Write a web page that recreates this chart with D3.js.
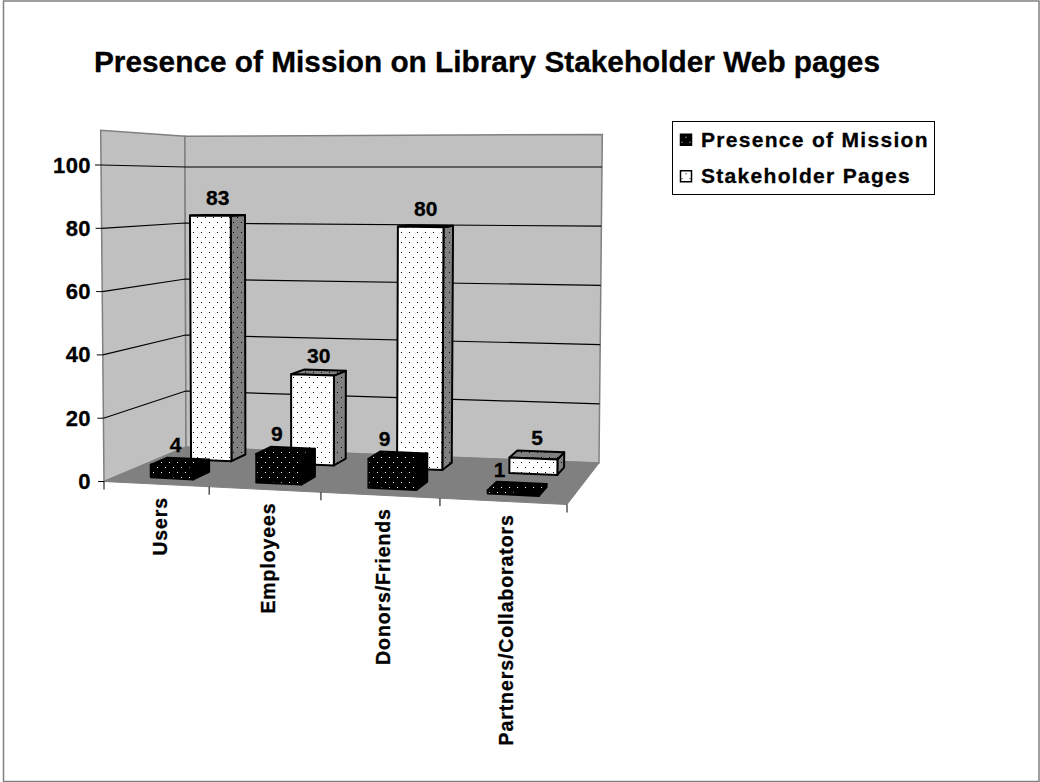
<!DOCTYPE html>
<html>
<head>
<meta charset="utf-8">
<script src="https://cdn.jsdelivr.net/npm/d3@7"></script>
<style>
  html, body { margin: 0; padding: 0; background: #fff; }
  svg { display: block; font-family: "Liberation Sans", Arial, sans-serif; font-weight: bold; fill: #000; }
</style>
</head>
<body>
<svg id="chart" width="1040" height="782"></svg>
<script>
const title = "Presence of Mission on Library Stakeholder Web pages";
const categories = ["Users", "Employees", "Donors/Friends", "Partners/Collaborators"];
const seriesNames = ["Presence of Mission", "Stakeholder Pages"];
const presenceOfMission = [4, 9, 9, 1];
const stakeholderPages = [83, 30, 80, 5];
const valueTicks = [0, 20, 40, 60, 80, 100];
const valueMax = 111;

// picture-plane corners of the floor, and the offset of the 100 level above each corner
const floorCorners = {fl: [104, 481.5], fr: [567, 504.5], br: [599, 463], bl: [186, 447]};
const riseCorners = {fl: [-3, -316.5], fr: [3, -332], br: [3, -296], bl: [-1, -280]};

function homography({fl, fr, br, bl}) {
    // unit square -> quad
    const dx1 = fr[0] - br[0], dx2 = bl[0] - br[0], sx = fl[0] - fr[0] + br[0] - bl[0];
    const dy1 = fr[1] - br[1], dy2 = bl[1] - br[1], sy = fl[1] - fr[1] + br[1] - bl[1];
    const det = dx1 * dy2 - dx2 * dy1;
    const g = (sx * dy2 - dx2 * sy) / det, h = (dx1 * sy - sx * dy1) / det;
    const a = fr[0] - fl[0] + g * fr[0], b = bl[0] - fl[0] + h * bl[0];
    const d = fr[1] - fl[1] + g * fr[1], e = bl[1] - fl[1] + h * bl[1];
    return (u, w) => {
        const k = g * u + h * w + 1;
        return [(a * u + b * w + fl[0]) / k, (d * u + e * w + fl[1]) / k];
    };
}

const floorAt = homography(floorCorners);
const vScale = d3.scaleLinear().domain([0, 100]).range([0, 1]);

function riseAt(u, w) {
    const {fl, fr, br, bl} = riseCorners;
    return [0, 1].map(i => (1 - w) * ((1 - u) * fl[i] + u * fr[i]) + w * ((1 - u) * bl[i] + u * br[i]));
}

function project(u, w, v) {
    const p = floorAt(u, w), r = riseAt(u, w), t = vScale(v);
    return [p[0] + r[0] * t, p[1] + r[1] * t];
}

const uScale = d3.scaleBand().domain(categories).range([0.008, 1.008]).paddingInner(0.59).paddingOuter(0.295);
const catBand = d3.scaleBand().domain(categories).range([0, 1]);
const wScale = d3.scaleBand().domain(seriesNames).range([0, 1]).paddingInner(0.6).paddingOuter(0.3);

const svg = d3.select("#chart");
const poly = pts => pts.map(p => p.join(",")).join(" ");

// fill patterns
const defs = svg.append("defs");
function addDots(id, bg, dot) {
    const p = defs.append("pattern").attr("id", id).attr("patternUnits", "userSpaceOnUse")
        .attr("width", 8).attr("height", 10);
    p.append("rect").attr("width", 8).attr("height", 10).attr("fill", bg);
    p.append("rect").attr("x", 1).attr("y", 2).attr("width", 1).attr("height", 1).attr("fill", dot);
    p.append("rect").attr("x", 5).attr("y", 7).attr("width", 1).attr("height", 1).attr("fill", dot);
}
addDots("dotsWhite", "#fff", "#000");
addDots("dotsGrey", "#808080", "#000");
addDots("dotsBlack", "#000", "#fff");

svg.append("rect").attr("x", 3.5).attr("y", 1).attr("width", 1035.5).attr("height", 780.5)
    .attr("fill", "#fff").attr("stroke", "#808080").attr("stroke-width", 1.5);

svg.append("text").attr("x", 94).attr("y", 72).attr("font-size", 29.8).attr("stroke", "#000").attr("stroke-width", 0.3).text(title);

// walls and floor
const wallG = svg.append("g");
wallG.append("polygon")
    .attr("points", poly([project(0, 0, 0), project(0, 1, 0), project(0, 1, valueMax), project(0, 0, valueMax)]))
    .attr("fill", "#c0c0c0").attr("stroke", "#808080").attr("stroke-width", 1.5);
wallG.append("polygon")
    .attr("points", poly([project(0, 1, 0), project(1, 1, 0), project(1, 1, valueMax), project(0, 1, valueMax)]))
    .attr("fill", "#c0c0c0").attr("stroke", "#808080").attr("stroke-width", 1.5);
wallG.append("polygon")
    .attr("points", poly([project(0, 0, 0), project(1, 0, 0), project(1, 1, 0), project(0, 1, 0)]))
    .attr("fill", "#808080").attr("stroke", "#808080");

// gridlines along both walls
wallG.selectAll("polyline.grid").data(valueTicks.slice(1)).join("polyline")
    .attr("class", "grid").attr("fill", "none").attr("stroke", "#000").attr("stroke-width", 1.2)
    .attr("points", d => poly([project(0, 0, d), project(0, 1, d), project(1, 1, d)]));

// value axis
const tickG = svg.append("g");
tickG.selectAll("line").data(valueTicks).join("line")
    .attr("x1", d => project(0, 0, d)[0] - 6).attr("x2", d => project(0, 0, d)[0])
    .attr("y1", d => project(0, 0, d)[1]).attr("y2", d => project(0, 0, d)[1])
    .attr("stroke", "#000");
tickG.selectAll("text").data(valueTicks).join("text")
    .attr("x", 91).attr("y", d => project(0, 0, d)[1] + 7.5)
    .attr("text-anchor", "end").attr("font-size", 22).attr("letter-spacing", 0.4)
    .attr("stroke", "#000").attr("stroke-width", 0.3).text(d => d);

// category ticks and labels
const catEdges = d3.range(categories.length + 1).map(i => i / categories.length);
svg.append("g").selectAll("line").data(catEdges).join("line")
    .attr("x1", d => project(d, 0, 0)[0]).attr("x2", d => project(d, 0, 0)[0])
    .attr("y1", d => project(d, 0, 0)[1]).attr("y2", d => project(d, 0, 0)[1] + 8)
    .attr("stroke", "#000");
svg.append("g").selectAll("text").data(categories).join("text")
    .attr("transform", d => {
        const p = project(catBand(d) + catBand.bandwidth() / 2, 0, 0);
        return "translate(" + (p[0] + 11) + "," + (p[1] + 13) + ")rotate(-90)";
    })
    .attr("text-anchor", "end").attr("font-size", 19.5).attr("letter-spacing", 0.9)
    .attr("stroke", "#000").attr("stroke-width", 0.3).text(d => d);

// bars, back series first, left to right
const depthEach = wScale.bandwidth();
const bars = [];
seriesNames.forEach((s, si) => {
    const values = si === 0 ? presenceOfMission : stakeholderPages;
    values.forEach((v, ci) => bars.push({series: s, si, cat: categories[ci], v}));
});
bars.sort((a, b) => b.si - a.si);

const faceFill = {
    front: si => si === 0 ? "url(#dotsBlack)" : "url(#dotsWhite)",
    side: si => si === 0 ? "#000" : "url(#dotsGrey)",
    top: si => si === 0 ? "url(#dotsBlack)" : "url(#dotsGrey)"
};

const barG = svg.append("g").selectAll("g").data(bars).join("g");
barG.each(function (d) {
    const g = d3.select(this);
    const u0 = uScale(d.cat), u1 = u0 + uScale.bandwidth();
    const w0 = wScale(d.series), w1 = w0 + depthEach;
    const faces = [
        ["side", [[u1, w0, 0], [u1, w1, 0], [u1, w1, d.v], [u1, w0, d.v]]],
        ["top", [[u0, w0, d.v], [u1, w0, d.v], [u1, w1, d.v], [u0, w1, d.v]]],
        ["front", [[u0, w0, 0], [u1, w0, 0], [u1, w0, d.v], [u0, w0, d.v]]]
    ];
    faces.forEach(([name, corners]) => {
        g.append("polygon")
            .attr("points", poly(corners.map(c => project(...c))))
            .attr("fill", faceFill[name](d.si))
            .attr("stroke", "#000").attr("stroke-width", 2).attr("stroke-linejoin", "round");
    });
});

// value labels
const labelShift = d3.scaleLinear().domain([0, 1]).range([-2, -20]);
svg.append("g").selectAll("text").data(bars).join("text")
    .attr("text-anchor", "middle").attr("font-size", 21).attr("stroke", "#000").attr("stroke-width", 0.3)
    .attr("x", d => {
        const u = uScale(d.cat) + uScale.bandwidth() / 2;
        const p = project(u, wScale(d.series) + depthEach / 2, d.v);
        return p[0] + (d.si === 0 ? labelShift(u) : 0);
    })
    .attr("y", d => {
        const u = uScale(d.cat) + uScale.bandwidth() / 2;
        return project(u, wScale(d.series) + depthEach / 2, d.v)[1] - 10;
    })
    .text(d => d.v);

// legend
const legend = svg.append("g").attr("transform", "translate(672.5,121.5)");
legend.append("rect").attr("width", 262).attr("height", 73).attr("fill", "#fff").attr("stroke", "#000");
const legendRow = d3.scaleBand().domain(seriesNames).range([0, 73]);
const legendItems = legend.selectAll("g").data(seriesNames).join("g")
    .attr("transform", d => "translate(0," + (legendRow(d) + legendRow.bandwidth() / 2) + ")");
legendItems.append("rect").attr("x", 8).attr("y", -5.5).attr("width", 11).attr("height", 11)
    .attr("fill", (d, i) => i === 0 ? "url(#dotsBlack)" : "url(#dotsWhite)")
    .attr("stroke", "#000").attr("stroke-width", 1.5);
legendItems.append("text").attr("x", 28.5).attr("y", 7).attr("font-size", 21)
    .attr("letter-spacing", 1.3).attr("stroke", "#000").attr("stroke-width", 0.3).text(d => d);
</script>
</body>
</html>
